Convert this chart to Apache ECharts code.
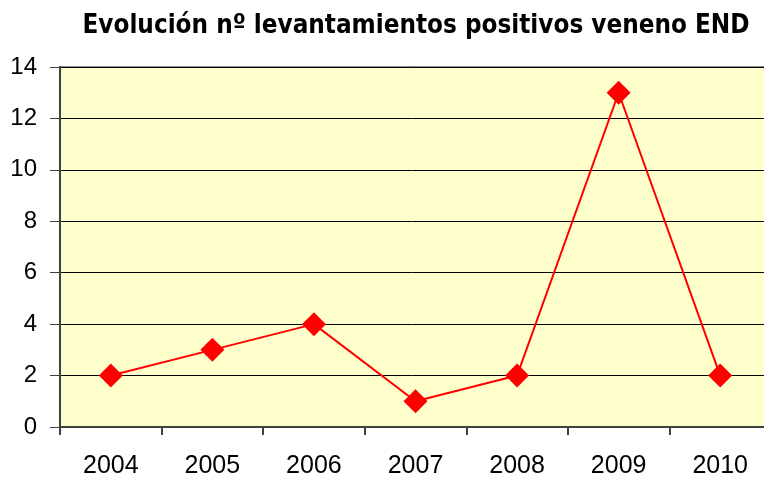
<!DOCTYPE html>
<html>
<head>
<meta charset="utf-8">
<script src="https://cdn.jsdelivr.net/npm/echarts@6/dist/echarts.min.js"></script>
<style>
  html, body { margin: 0; padding: 0; background: #fff; }
  #main { width: 764px; height: 481px; }
</style>
</head>
<body>
<div id="main"></div>
<script>
var years = ['2004', '2005', '2006', '2007', '2008', '2009', '2010'];
var positives = [2, 3, 4, 1, 2, 13, 2];

var chart = echarts.init(document.getElementById('main'));
var option = {
    backgroundColor: '#fff',
    title: {
        text: 'Evolución nº levantamientos positivos veneno END',
        left: 411,
        textAlign: 'center',
        top: 8,
        textStyle: {
            fontFamily: 'DejaVu Sans Condensed',
            fontWeight: 'bold',
            fontSize: 25.8,
            color: '#000'
        }
    },
    grid: {
        left: 60,
        width: 711,
        top: 67,
        bottom: 54,
        outerBoundsMode: 'none',
        show: true,
        backgroundColor: '#FFFFCC',
        borderColor: '#8c8c8c',
        borderWidth: 2
    },
    xAxis: {
        type: 'category',
        data: years,
        boundaryGap: true,
        axisLine: { lineStyle: { color: '#404040', width: 2 } },
        axisTick: { show: true, length: 8, lineStyle: { color: '#404040', width: 2 } },
        axisLabel: {
            fontFamily: 'Liberation Sans',
            fontSize: 25,
            color: '#000',
            margin: 27
        }
    },
    yAxis: {
        type: 'value',
        min: 0,
        max: 14,
        interval: 2,
        axisLine: { show: true, lineStyle: { color: '#404040', width: 2 } },
        axisTick: { show: true, length: 10, lineStyle: { color: '#404040' } },
        splitLine: { show: true, lineStyle: { color: '#000', width: 1 } },
        axisLabel: {
            fontFamily: 'Liberation Sans',
            fontSize: 24,
            color: '#000',
            margin: 23
        }
    },
    series: [{
        name: 'Positivos',
        type: 'line',
        data: positives,
        symbol: 'diamond',
        symbolSize: 24,
        itemStyle: { color: '#FF0000' },
        lineStyle: { color: '#FF0000', width: 2 },
        animation: false
    }]
};
chart.setOption(option);
window.addEventListener('resize', function () {
    chart.resize();
});
</script>
</body>
</html>
